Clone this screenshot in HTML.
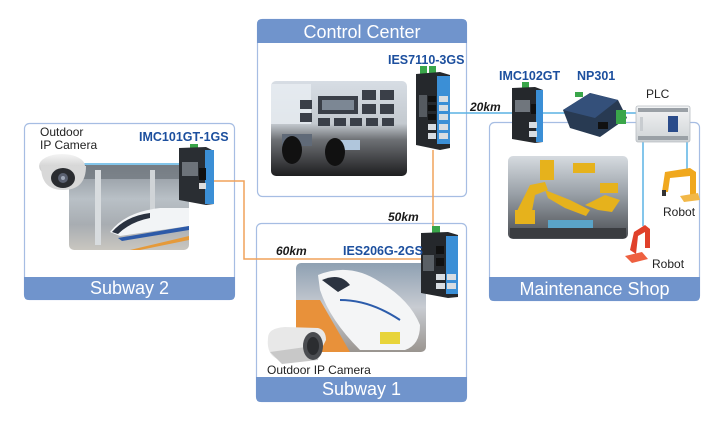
<!DOCTYPE html>
<html><head><meta charset="utf-8"><style>
html,body{margin:0;padding:0;background:#fff;}
svg{display:block;}
text{font-family:"Liberation Sans",Arial,sans-serif;}
</style></head><body>
<svg width="720" height="428" viewBox="0 0 720 428" xmlns="http://www.w3.org/2000/svg">
<defs>
<linearGradient id="ccg" x1="0" y1="0" x2="0" y2="1">
<stop offset="0" stop-color="#d7dde4"/><stop offset="0.45" stop-color="#c3c9cf"/><stop offset="0.62" stop-color="#6d7074"/><stop offset="1" stop-color="#1e1e20"/>
</linearGradient>
<linearGradient id="s2g" x1="0" y1="0" x2="0" y2="1">
<stop offset="0" stop-color="#8c939b"/><stop offset="0.4" stop-color="#b9c0c6"/><stop offset="0.7" stop-color="#a8adb2"/><stop offset="1" stop-color="#c9c6c0"/>
</linearGradient>
<linearGradient id="s1g" x1="0" y1="0" x2="0" y2="1">
<stop offset="0" stop-color="#8ea0b2"/><stop offset="0.5" stop-color="#c8ccd2"/><stop offset="1" stop-color="#9a9590"/>
</linearGradient>
<linearGradient id="fg" x1="0" y1="0" x2="0" y2="1">
<stop offset="0" stop-color="#d6dbe0"/><stop offset="0.45" stop-color="#9aa1a8"/><stop offset="1" stop-color="#4a4d52"/>
</linearGradient>
<linearGradient id="dome" x1="0" y1="0" x2="0" y2="1">
<stop offset="0" stop-color="#f4f4f4"/><stop offset="1" stop-color="#b8b8b8"/>
</linearGradient>
<linearGradient id="plc" x1="0" y1="0" x2="0" y2="1">
<stop offset="0" stop-color="#f2f3f4"/><stop offset="1" stop-color="#cfd3d6"/>
</linearGradient>
</defs>

<!-- Boxes -->
<rect x="257.5" y="19.5" width="209" height="177" rx="5" fill="#fff" stroke="#a6bde3" stroke-width="1.2"/>
<path d="M257 43 V24 Q257 19 262 19 H462 Q467 19 467 24 V43 Z" fill="#7094cc"/>
<text x="362" y="38" font-size="18" fill="#fff" text-anchor="middle">Control Center</text>

<rect x="24.5" y="123.5" width="210" height="176" rx="5" fill="#fff" stroke="#a6bde3" stroke-width="1.2"/>
<path d="M24 277 H235 V295 Q235 300 230 300 H29 Q24 300 24 295 Z" fill="#7094cc"/>
<text x="129.5" y="294" font-size="18" fill="#fff" text-anchor="middle">Subway 2</text>

<rect x="256.5" y="223.5" width="210" height="178" rx="5" fill="#fff" stroke="#a6bde3" stroke-width="1.2"/>
<path d="M256 377 H467 V397 Q467 402 462 402 H261 Q256 402 256 397 Z" fill="#7094cc"/>
<text x="361.5" y="395" font-size="18" fill="#fff" text-anchor="middle">Subway 1</text>

<rect x="489.5" y="122.5" width="210" height="178" rx="5" fill="#fff" stroke="#a6bde3" stroke-width="1.2"/>
<path d="M489 277 H700 V296 Q700 301 695 301 H494 Q489 301 489 296 Z" fill="#7094cc"/>
<text x="594.5" y="295" font-size="18" fill="#fff" text-anchor="middle">Maintenance Shop</text>

<!-- Photos -->
<!-- Control room -->
<rect x="271" y="81" width="136" height="95" rx="5" fill="url(#ccg)"/>
<rect x="271" y="84" width="40" height="40" fill="#e9edf2" opacity="0.8"/>
<g fill="#3a3f48">
<rect x="318" y="96" width="40" height="18"/>
<rect x="362" y="90" width="14" height="10"/><rect x="380" y="90" width="14" height="10"/>
<rect x="362" y="104" width="14" height="10"/><rect x="380" y="104" width="14" height="10"/>
<rect x="318" y="118" width="12" height="8"/><rect x="334" y="118" width="12" height="8"/><rect x="350" y="118" width="12" height="8"/><rect x="366" y="118" width="12" height="8"/><rect x="382" y="118" width="12" height="8"/>
<rect x="300" y="100" width="12" height="9"/><rect x="300" y="113" width="12" height="9"/>
</g>
<rect x="322" y="100" width="32" height="10" fill="#7c8794"/>
<rect x="282" y="134" width="30" height="12" fill="#606a78"/>
<rect x="340" y="140" width="20" height="10" fill="#b0c6dc"/>
<ellipse cx="292" cy="150" rx="10" ry="14" fill="#111"/>
<ellipse cx="335" cy="152" rx="10" ry="14" fill="#111"/>

<!-- Subway 2 station -->
<rect x="69" y="165" width="120" height="85" rx="5" fill="url(#s2g)"/>
<rect x="69" y="165" width="120" height="14" fill="#6c737a" opacity="0.7"/>
<rect x="95" y="170" width="6" height="75" fill="#d8dcdf"/>
<rect x="150" y="170" width="5" height="60" fill="#d0d4d7"/>
<path d="M110 232 Q125 212 160 208 L189 208 L189 226 L120 236 Z" fill="#f2f4f6"/>
<path d="M112 232 Q126 216 150 213 L150 218 Q130 222 118 234 Z" fill="#2a3240"/>
<path d="M118 238 L189 226 L189 230 L122 241 Z" fill="#2d5aa8"/>
<path d="M130 250 L189 236 L189 240 L140 250 Z" fill="#e59a3a"/>

<!-- Subway 1 station -->
<rect x="296" y="263" width="130" height="89" rx="5" fill="url(#s1g)"/>
<path d="M296 300 L320 300 L350 352 L296 352 Z" fill="#e8913a"/>
<path d="M318 275 Q350 262 380 282 Q410 300 420 325 Q420 345 405 350 L360 350 Q330 320 320 290 Z" fill="#f4f5f6"/>
<path d="M322 280 Q340 272 350 285 L338 292 Z" fill="#2b3340"/>
<path d="M340 300 Q370 300 400 320" stroke="#2c5cab" stroke-width="2" fill="none"/>
<rect x="380" y="332" width="20" height="12" fill="#e8d43a"/>

<!-- Factory -->
<rect x="508" y="156" width="120" height="83" rx="5" fill="url(#fg)"/>
<g fill="#e6b21c">
<rect x="540" y="160" width="14" height="20"/>
<rect x="573" y="163" width="22" height="10"/>
<path d="M515 215 L530 185 L545 182 L548 190 L535 195 L530 222 Z"/>
<path d="M545 190 L570 200 L590 210 L586 216 L565 208 L548 198 Z"/>
<path d="M585 205 L605 195 L620 200 L612 212 L598 210 Z"/>
<rect x="515" y="210" width="20" height="14"/>
<rect x="600" y="183" width="18" height="10"/>
</g>
<rect x="548" y="220" width="45" height="8" fill="#5aa4c8"/>
<rect x="510" y="228" width="116" height="10" fill="#3a3c40"/>

<!-- Connector lines -->
<g stroke="#5ab2e4" stroke-width="1.5" fill="none">
<line x1="84" y1="164" x2="180" y2="164"/>
<line x1="450" y1="113" x2="640" y2="113"/>
<line x1="643" y1="142" x2="643" y2="226"/>
<line x1="687" y1="142" x2="687" y2="170"/>
</g>
<g stroke="#f0a25a" stroke-width="1.5" fill="none">
<polyline points="212,181 244,181 244,259 423,259"/>
<line x1="433" y1="150" x2="433" y2="233"/>
</g>

<!-- Dome camera -->
<ellipse cx="62" cy="166" rx="23" ry="12" fill="url(#dome)"/>
<path d="M41 166 Q41 190 63 190 Q86 190 86 166 Z" fill="#d8d8d8"/>
<ellipse cx="63" cy="178" rx="12" ry="10" fill="#2a2c30"/>
<circle cx="63" cy="178" r="5" fill="#5a6070"/>
<circle cx="63" cy="178" r="2" fill="#a0a8b8"/>

<!-- Bullet camera -->
<path d="M268 338 Q268 328 285 327 L318 328 Q326 330 326 340 L320 352 L280 360 Q266 356 268 338 Z" fill="#e8e8e8"/>
<path d="M270 352 L320 345 L318 360 L282 364 Z" fill="#c8c8c8"/>
<ellipse cx="313" cy="346" rx="10" ry="14" fill="#4a4c50"/>
<ellipse cx="313" cy="346" rx="6" ry="9" fill="#2b2d30"/>

<!-- IMC101GT switch -->
<rect x="190" y="144" width="8" height="5" fill="#3aa64a"/>
<path d="M179 148 L206 147 L214 151 L214 204 L206 205 L179 200 Z" fill="#2a2e33"/>
<rect x="205" y="150" width="9" height="54" fill="#3b8fd6"/>
<rect x="182" y="162" width="16" height="14" fill="#6d737a"/>
<rect x="199" y="168" width="7" height="12" fill="#111"/>
<rect x="199" y="183" width="7" height="6" fill="#ddd"/>

<!-- IES7110 switch -->
<rect x="420" y="66" width="7" height="8" fill="#3aa64a"/>
<rect x="429" y="66" width="7" height="8" fill="#3aa64a"/>
<path d="M416 74 L440 72 L450 75 L450 148 L440 150 L416 145 Z" fill="#25282c"/>
<rect x="437" y="76" width="13" height="68" fill="#3b8fd6"/>
<g fill="#d8dde2">
<rect x="439" y="96" width="9" height="6"/><rect x="439" y="105" width="9" height="6"/><rect x="439" y="114" width="9" height="6"/>
<rect x="439" y="124" width="9" height="6"/><rect x="439" y="133" width="9" height="6"/>
<rect x="428" y="124" width="8" height="6"/><rect x="428" y="133" width="8" height="6"/>
</g>
<g fill="#111"><rect x="428" y="96" width="8" height="6"/><rect x="428" y="105" width="8" height="6"/><rect x="428" y="114" width="8" height="6"/></g>
<rect x="419" y="95" width="8" height="22" fill="#555a60"/>

<!-- IES206G switch -->
<rect x="432" y="226" width="8" height="7" fill="#3aa64a"/>
<path d="M421 233 L448 232 L458 235 L458 297 L448 298 L421 293 Z" fill="#25282c"/>
<rect x="446" y="236" width="12" height="58" fill="#3b8fd6"/>
<g fill="#111"><rect x="436" y="246" width="8" height="8"/><rect x="436" y="258" width="8" height="8"/></g>
<g fill="#d8dde2"><rect x="436" y="274" width="9" height="6"/><rect x="447" y="274" width="9" height="6"/><rect x="436" y="283" width="9" height="6"/><rect x="447" y="283" width="9" height="6"/></g>
<rect x="423" y="255" width="11" height="16" fill="#5a6066"/>

<!-- IMC102GT -->
<rect x="522" y="82" width="7" height="6" fill="#3aa64a"/>
<path d="M512 88 L535 87 L543 90 L543 142 L535 143 L512 139 Z" fill="#25282c"/>
<rect x="536" y="90" width="7" height="52" fill="#3b8fd6"/>
<rect x="515" y="100" width="15" height="12" fill="#70767d"/>
<rect x="531" y="104" width="5" height="10" fill="#111"/>
<g fill="#d8dde2"><rect x="529" y="122" width="8" height="6"/><rect x="529" y="131" width="8" height="6"/></g>

<!-- NP301 -->
<path d="M563 110 L590 93 L618 100 L627 118 L600 137 L570 128 Z" fill="#283a52"/>
<path d="M563 110 L590 93 L618 100 L595 118 Z" fill="#34507a"/>
<rect x="598" y="122" width="10" height="7" fill="#111"/>
<rect x="616" y="110" width="10" height="14" fill="#3aa64a"/>
<rect x="575" y="92" width="8" height="5" fill="#3aa64a"/>

<!-- PLC -->
<rect x="636" y="106" width="54" height="36" rx="2" fill="url(#plc)" stroke="#b9bec3" stroke-width="0.8"/>
<rect x="638" y="108" width="50" height="4" fill="#9aa0a6"/>
<rect x="638" y="136" width="50" height="4" fill="#9aa0a6"/>
<rect x="668" y="116" width="10" height="16" fill="#2a4b8a"/>
<rect x="640" y="117" width="3" height="14" fill="#c8ccd0"/>

<!-- Yellow robot -->
<path d="M665 172 L690 168 L696 172 L696 195 L690 196 L690 176 L670 178 L668 192 L662 192 Z" fill="#f0a81e"/>
<path d="M680 196 L698 193 L700 200 L684 202 Z" fill="#f2b848"/>
<rect x="662" y="190" width="4" height="6" fill="#333"/>
<!-- Red robot -->
<path d="M630 250 L634 232 L645 225 L650 229 L650 248 L645 248 L645 232 L638 236 L636 254 Z" fill="#e0402a"/>
<path d="M625 256 L642 252 L648 259 L632 263 Z" fill="#ee6040"/>

<!-- Labels -->
<g font-weight="bold" fill="#1c4f9e" font-size="12.5">
<text x="139" y="141">IMC101GT-1GS</text>
<text x="388" y="64">IES7110-3GS</text>
<text x="499" y="80">IMC102GT</text>
<text x="577" y="80">NP301</text>
<text x="343" y="255">IES206G-2GS</text>
</g>
<g font-weight="bold" font-style="italic" fill="#1a1a1a" font-size="12">
<text x="470" y="111">20km</text>
<text x="388" y="221">50km</text>
<text x="276" y="255">60km</text>
</g>
<g fill="#222" font-size="12">
<text x="40" y="136">Outdoor</text>
<text x="40" y="149">IP Camera</text>
<text x="267" y="374">Outdoor IP Camera</text>
<text x="646" y="98">PLC</text>
<text x="663" y="216">Robot</text>
<text x="652" y="268">Robot</text>
</g>
</svg>
</body></html>
